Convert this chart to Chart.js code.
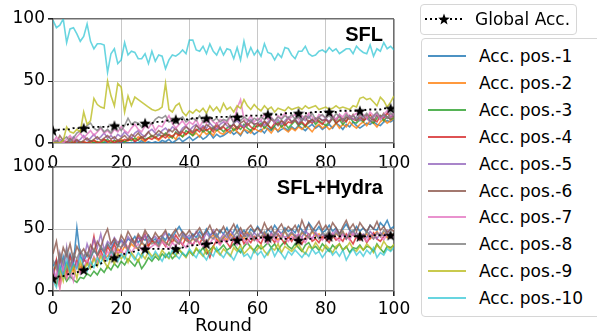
<!DOCTYPE html>
<html lang="en">
<head>
<meta charset="UTF-8" />
<title>SFL vs SFL+Hydra accuracy per position</title>
<script src="https://cdn.jsdelivr.net/npm/chart.js"></script>
<style>
  html, body { margin: 0; padding: 0; background: #fff; }
  body { width: 597px; height: 335px; overflow: hidden; position: relative; font-family: 'DejaVu Sans', sans-serif; }
  .plot { position: absolute; left: 0; width: 420px; }
  #topWrap { top: 0; height: 170px; }
  #botWrap { top: 148px; height: 189px; }
  .tag { position: absolute; text-align: right; font-family: 'Liberation Sans', Arial, sans-serif; font-weight: bold; font-size: 20px; line-height: 1; color: #000; }
  .legend { position: absolute; border: 1px solid #d6d6d6; border-radius: 4px; background: #fff; box-sizing: border-box; z-index: 2; }
  .item { position: absolute; left: 0; height: 20px; font-size: 17px; line-height: 20px; white-space: nowrap; color: #000; }
  .swatch { position: absolute; left: 6px; top: 9px; width: 38px; height: 2px; }
  .label { position: absolute; left: 57px; top: 0; }
</style>
</head>
<body>
  <div class="plot" id="topWrap"><canvas id="sflChart"></canvas></div>
  <div class="plot" id="botWrap"><canvas id="hydraChart"></canvas></div>
  <div class="tag" style="left:283px; width:100px; top:24px;">SFL</div>
  <div class="tag" style="left:243px; width:140px; top:177px;">SFL+Hydra</div>

  <div class="legend" id="legendGlobal" style="left:420px; top:4px; width:157px; height:31px;"></div>
  <div class="legend" id="legendPos" style="left:421px; top:38px; width:200px; height:279px;"></div>

<script>
// rounds 0..100
const rounds = Array.from({ length: 101 }, (_, i) => i);

const posNames = ['Acc. pos.-1', 'Acc. pos.-2', 'Acc. pos.-3', 'Acc. pos.-4', 'Acc. pos.-5',
                  'Acc. pos.-6', 'Acc. pos.-7', 'Acc. pos.-8', 'Acc. pos.-9', 'Acc. pos.-10'];
const posColors = ['rgba(31,119,180,0.8)', 'rgba(255,127,14,0.8)', 'rgba(44,160,44,0.8)', 'rgba(214,39,40,0.8)', 'rgba(148,103,189,0.8)',
                   'rgba(140,86,75,0.8)', 'rgba(227,119,194,0.8)', 'rgba(127,127,127,0.8)', 'rgba(188,189,34,0.8)', 'rgba(23,190,207,0.65)'];

// ---- SFL (top panel) ----
const sflGlobal = [
  10,10,11,11,11,11,12,12,12,12, 12,12,13,13,13,13,13,14,14,14,
  14,14,15,15,15,15,16,16,16,16, 17,17,17,18,18,18,19,19,19,19,
  19,20,20,20,20,20,20,20,21,21, 21,21,21,21,21,21,22,22,22,22,
  22,22,23,23,23,23,23,23,24,24, 24,24,24,24,24,24,25,25,25,25,
  25,25,25,25,26,26,26,26,26,26, 26,26,27,27,27,27,27,28,28,28,
  28];
const sflPos1 = [
  0,0,0,0,0,0,0,0,0,0, 0,0,0,0,0,0,1,0,0,0,
  0,1,0,0,1,0,2,0,1,0, 1,0,2,1,3,0,2,4,1,3,
  5,2,4,6,3,5,8,4,7,5, 6,8,10,7,9,6,11,8,10,7,
  9,11,8,12,10,13,9,11,12,10, 13,11,14,12,10,13,15,12,14,11,
  13,15,12,16,14,11,15,13,17,14, 12,14,16,15,17,15,14,17,18,17,
  19];
const sflPos2 = [
  0,0,0,1,0,0,2,0,0,1, 0,0,2,1,0,3,1,0,2,1,
  3,1,2,4,2,5,3,1,4,6, 4,2,5,7,4,6,3,8,5,7,
  9,6,8,5,10,7,9,6,11,8, 7,10,8,12,9,7,11,10,8,12,
  10,9,13,11,8,12,10,14,11,9, 12,10,13,11,14,12,9,13,15,12,
  14,11,13,16,12,15,13,17,14,12, 15,17,14,18,16,13,17,19,16,18,
  20];
const sflPos3 = [
  0,0,0,0,0,1,0,0,1,0, 0,2,0,1,0,1,3,0,2,1,
  2,1,3,2,4,2,5,3,4,6, 4,7,5,8,6,4,9,7,5,10,
  8,6,10,12,9,11,8,13,10,12, 9,12,14,10,13,11,15,12,10,14,
  13,16,12,15,11,14,17,13,16,12, 15,18,14,16,13,17,19,15,18,16,
  14,17,20,16,19,15,18,21,17,16, 19,17,21,18,16,20,22,18,21,19,
  20];
const sflPos4 = [
  0,0,0,0,1,0,0,2,0,1, 0,1,2,0,1,3,1,2,0,2,
  1,3,2,4,1,3,5,2,4,3, 5,3,6,4,7,5,8,6,9,7,
  10,8,11,9,13,10,12,9,14,11, 13,10,12,15,11,14,12,16,13,11,
  15,13,17,14,12,16,15,18,14,17, 16,19,15,17,14,18,16,20,17,15,
  19,17,21,16,18,20,17,22,19,18, 21,18,20,23,19,17,22,20,24,21,
  23];
const sflPos5 = [
  0,0,3,1,0,2,5,1,3,6, 2,4,7,3,5,8,4,6,3,7,
  5,9,6,4,8,10,7,5,9,11, 8,6,10,12,9,13,11,8,12,14,
  10,13,15,11,14,12,16,13,11,15, 17,14,12,16,18,15,13,17,19,15,
  16,18,14,17,20,16,19,15,18,21, 17,19,16,20,18,22,17,19,21,18,
  20,17,21,19,23,18,20,22,19,21, 18,22,20,17,21,23,19,22,20,21,
  23];
const sflPos6 = [
  3,0,6,2,0,4,1,3,0,2, 4,1,3,5,2,4,6,3,5,2,
  4,6,3,7,5,8,4,6,9,5, 7,10,8,6,11,9,12,8,10,13,
  11,9,14,12,10,15,13,11,16,12, 14,17,13,15,12,16,18,14,17,15,
  16,14,18,15,19,17,14,18,16,20, 17,19,15,18,21,16,19,17,20,18,
  19,16,20,18,22,17,21,19,23,18, 21,19,23,20,18,22,20,24,21,19,
  22];
const sflPos7 = [
  0,5,1,0,3,6,2,5,8,4, 7,10,6,9,12,8,10,7,11,9,
  13,10,8,12,15,11,9,14,12,16, 10,14,13,18,22,16,12,15,18,14,
  17,15,19,13,18,16,20,17,15,19, 18,16,21,17,28,35,19,18,22,17,
  20,18,23,19,21,17,22,20,24,19, 21,23,19,22,20,24,21,18,23,22,
  20,24,22,19,23,21,25,20,22,24, 21,23,20,25,22,24,19,23,26,22,
  24];
const sflPos8 = [
  0,2,0,3,5,1,4,8,10,12, 14,16,12,10,13,9,11,8,12,14,
  10,14,20,15,17,16,13,17,16,15, 19,21,20,22,17,18,16,19,21,17,
  19,20,18,22,17,19,21,18,20,17, 19,18,22,16,20,18,21,19,17,20,
  18,21,19,22,20,18,21,19,22,20, 23,19,21,18,22,20,24,19,21,23,
  20,22,19,24,21,18,23,20,22,19, 23,21,24,20,22,25,21,23,20,24,
  22];
const sflPos9 = [
  0,0,0,2,13,9,8,11,9,25, 15,18,36,31,29,28,50,38,30,48,
  45,25,38,30,37,35,33,31,29,27, 26,27,29,48,27,25,30,32,25,22,
  26,24,27,25,28,24,30,26,29,25, 32,27,29,25,30,28,35,30,27,31,
  28,26,30,27,29,25,28,27,26,29, 27,28,29,27,30,28,29,30,27,28,
  29,27,28,30,28,29,28,27,30,29, 36,37,35,36,33,30,37,34,29,33,
  38];
const sflPos10 = [
  99,93,95,100,81,92,93,88,82,86, 96,82,76,80,80,79,57,72,76,64,
  67,81,71,74,73,68,68,72,64,74, 66,71,70,60,67,71,70,72,75,72,
  83,83,75,74,78,72,80,74,71,77, 71,76,75,68,77,67,82,70,77,71,
  75,70,80,73,72,67,72,69,77,76, 71,68,74,74,78,72,70,71,74,75,
  73,77,74,76,72,74,76,76,72,78, 75,73,72,79,70,76,74,81,76,78,
  75];

// ---- SFL+Hydra (bottom panel) ----
const hydraGlobal = [
  10,11,12,12,13,14,14,15,16,17, 18,19,20,21,22,24,25,26,27,28,
  29,30,31,31,32,33,33,34,34,34, 34,34,34,34,34,35,34,35,35,36,
  36,37,37,37,38,38,38,39,39,40, 40,40,41,41,41,41,42,42,42,42,
  43,43,43,43,43,43,43,42,42,42, 42,41,41,41,42,42,42,43,43,43,
  43,44,44,44,44,44,44,44,44,44, 44,44,44,44,45,45,45,45,45,45,
  46];
const hydraPos1 = [
  20,25,15,28,18,30,22,51,28,24, 30,26,33,29,35,31,38,34,40,36,
  41,38,42,40,44,39,43,41,45,40, 42,38,44,41,46,43,48,52,47,44,
  42,46,43,48,44,50,45,47,43,49, 46,51,44,48,53,46,49,45,50,47,
  52,48,45,50,47,53,49,46,51,48, 50,47,53,49,46,55,51,48,52,47,
  49,53,48,51,46,50,54,49,47,52, 48,51,47,53,50,49,55,52,57,50,
  52];
const hydraPos2 = [
  5,12,3,18,10,22,15,25,20,17, 24,20,27,23,30,26,28,32,29,34,
  31,36,33,38,35,34,39,36,37,40, 38,36,41,39,37,42,40,38,43,41,
  39,42,40,44,41,38,43,45,42,40, 44,41,46,43,40,45,42,47,44,41,
  45,43,47,42,46,44,41,45,48,43, 46,44,42,47,45,43,48,44,46,42,
  45,47,43,46,44,48,42,46,45,43, 47,44,46,42,45,48,44,47,43,46,
  45];
const hydraPos3 = [
  15,22,10,14,8,12,9,7,11,10, 14,12,16,13,18,15,20,17,22,19,
  24,21,26,23,20,25,18,22,27,24, 28,25,30,27,31,26,29,33,30,28,
  32,29,34,31,35,30,33,36,32,34, 37,33,35,38,34,31,36,39,35,33,
  37,34,36,39,35,38,33,37,40,36, 34,38,35,32,37,39,34,36,33,38,
  35,32,37,34,38,33,36,31,35,34, 37,33,36,35,32,38,34,31,36,35,
  37];
const hydraPos4 = [
  10,25,8,20,14,28,18,24,16,26, 22,30,44,28,33,25,36,31,38,29,
  35,40,33,42,37,44,39,46,36,41, 38,43,40,36,42,39,45,41,37,43,
  40,37,42,38,44,33,27,36,41,38, 42,39,35,43,40,45,38,42,39,44,
  41,38,45,40,43,39,46,42,38,44, 40,45,41,38,43,46,40,42,39,44,
  42,39,45,41,43,40,46,42,38,44, 41,45,39,43,47,42,40,44,46,43,
  45];
const hydraPos5 = [
  18,8,30,15,35,12,28,20,32,25, 38,30,42,35,46,33,40,37,43,39,
  41,36,44,40,38,43,41,45,39,42, 44,40,43,47,41,45,42,39,46,43,
  45,42,48,44,41,47,43,49,45,42, 46,43,49,45,42,48,44,46,43,47,
  44,48,45,42,47,44,49,46,43,45, 48,44,46,43,49,45,42,47,44,46,
  43,47,45,49,44,46,42,48,45,47, 44,46,43,48,45,42,47,44,49,46,
  44];
const hydraPos6 = [
  30,40,22,35,28,38,25,36,30,34, 28,37,32,40,35,44,50,38,42,36,
  45,40,48,43,39,46,42,49,44,41, 47,43,45,49,42,46,50,44,48,45,
  49,44,47,51,45,48,53,46,50,47, 52,46,49,54,47,51,45,50,53,48,
  51,47,55,49,52,46,50,54,48,52, 49,53,47,57,50,54,48,52,56,49,
  53,48,55,51,46,52,57,50,54,48, 55,51,48,53,50,56,49,52,47,50,
  48];
const hydraPos7 = [
  5,15,2,20,10,18,8,22,14,19, 25,20,28,22,30,26,32,28,34,30,
  33,29,36,31,35,38,33,37,34,36, 38,35,40,37,34,39,36,41,38,35,
  40,37,42,39,36,41,38,43,40,37, 42,39,44,40,37,43,41,38,45,42,
  40,44,41,38,45,42,39,46,43,40, 44,41,46,43,39,45,42,47,44,41,
  45,42,47,43,40,46,44,41,47,43, 46,43,40,45,42,47,44,41,46,43,
  44];
const hydraPos8 = [
  25,18,30,22,34,20,30,26,33,28, 31,27,34,29,36,32,38,34,30,37,
  35,39,33,41,37,34,40,36,42,38, 40,36,43,39,37,44,40,38,45,41,
  39,43,40,45,41,38,44,42,46,40, 43,46,41,44,48,42,45,43,47,41,
  46,43,48,44,41,47,45,42,49,44, 47,44,42,48,45,43,49,46,42,47,
  45,49,43,47,44,48,42,46,49,44, 47,43,48,45,42,47,44,49,46,43,
  45];
const hydraPos9 = [
  12,5,18,8,22,14,20,10,24,16, 22,18,26,20,28,24,19,27,22,30,
  26,29,23,31,27,24,30,26,32,28, 30,27,33,29,26,31,28,34,30,27,
  32,29,35,31,28,34,30,36,32,29, 34,31,28,35,32,37,30,33,36,31,
  34,37,32,29,35,33,38,31,36,34, 32,35,38,33,30,36,34,39,35,32,
  37,34,31,36,38,33,35,39,34,32, 36,33,38,35,31,37,34,40,36,33,
  38];
const hydraPos10 = [
  8,3,20,12,25,15,22,18,28,20, 16,24,19,27,22,30,25,32,28,24,
  30,26,33,29,25,31,27,34,30,26, 32,28,24,30,27,33,29,26,31,28,
  34,30,27,33,29,25,31,28,35,30, 27,32,29,25,31,34,28,30,26,33,
  29,32,27,31,35,28,33,30,26,32, 29,33,30,27,31,28,34,30,32,27,
  31,34,29,32,28,33,25,30,34,29, 32,28,33,30,35,27,31,29,34,32,
  35];

const sflPos = [sflPos1, sflPos2, sflPos3, sflPos4, sflPos5, sflPos6, sflPos7, sflPos8, sflPos9, sflPos10];
const hydraPos = [hydraPos1, hydraPos2, hydraPos3, hydraPos4, hydraPos5, hydraPos6, hydraPos7, hydraPos8, hydraPos9, hydraPos10];

const spineColor = '#6e6e6e';
const gridColor = '#c8c8c8';
const tickFont = { family: 'DejaVu Sans', size: 17 };

// filled 5-point star used as marker for the global accuracy
function makeStar(size) {
  const c = document.createElement('canvas');
  c.width = c.height = size;
  const g = c.getContext('2d');
  const r = size / 2, ri = r * 0.42;
  g.beginPath();
  for (let k = 0; k < 10; k++) {
    const rad = k % 2 ? ri : r;
    const a = -Math.PI / 2 + k * Math.PI / 5;
    g.lineTo(r + rad * Math.cos(a), r + 0.6 + rad * Math.sin(a));
  }
  g.closePath();
  g.fillStyle = '#000';
  g.fill();
  return c;
}
const star = makeStar(12);

const isEdge = (c) => c.tick && (c.tick.value === 0 || c.tick.value === 100);

function buildChart(id, globalData, posData, xAxisH, tickPad, withTitle) {
  const datasets = [{
    label: 'Global Acc.',
    data: globalData,
    borderColor: '#000',
    backgroundColor: '#000',
    borderWidth: 1.8,
    borderDash: [2, 3],
    pointStyle: star,
    pointRadius: c => (c.dataIndex % 9 === 0 ? 5 : 0),
    pointHoverRadius: 0,
    order: 0
  }];
  posData.forEach((d, i) => {
    datasets.push({
      label: posNames[i],
      data: d,
      borderColor: posColors[i],
      borderWidth: 1.6,
      pointRadius: 0,
      order: 11 - i
    });
  });

  return new Chart(document.getElementById(id), {
    type: 'line',
    data: { labels: rounds, datasets: datasets },
    options: {
      responsive: true,
      maintainAspectRatio: false,
      animation: false,
      layout: { padding: { top: 19, right: 26, left: 0, bottom: 0 } },
      plugins: { legend: { display: false }, tooltip: { enabled: false } },
      elements: { line: { tension: 0 } },
      scales: {
        x: {
          type: 'linear',
          min: 0,
          max: 100,
          afterFit: s => { s.height = xAxisH; },
          ticks: { stepSize: 20, padding: tickPad, color: '#000', font: tickFont, maxRotation: 0, autoSkip: false },
          grid: {
            color: c => (isEdge(c) ? spineColor : gridColor),
            lineWidth: c => (isEdge(c) ? 1.6 : 1),
            tickLength: 5,
            tickColor: '#222'
          },
          border: { display: false },
          title: {
            display: withTitle,
            text: 'Round',
            color: '#000',
            font: { family: 'DejaVu Sans', size: 18 },
            padding: 0
          }
        },
        y: {
          min: 0,
          max: 100,
          afterFit: s => { s.width = 53; },
          ticks: { stepSize: 50, padding: 3, color: '#000', font: tickFont },
          grid: {
            color: c => (isEdge(c) ? spineColor : gridColor),
            lineWidth: c => (isEdge(c) ? 1.6 : 1),
            tickLength: 5,
            tickColor: '#222'
          },
          border: { display: false }
        }
      }
    }
  });
}

buildChart('sflChart', sflGlobal, sflPos, 27, 5, false);
buildChart('hydraChart', hydraGlobal, hydraPos, 46, 3, true);

// legends
(function () {
  const lg = document.getElementById('legendGlobal');
  const item = document.createElement('div');
  item.className = 'item';
  item.style.top = '4px';
  const cv = document.createElement('canvas');
  cv.width = 38; cv.height = 14;
  cv.style.position = 'absolute'; cv.style.left = '4px'; cv.style.top = '3px';
  const g = cv.getContext('2d');
  g.strokeStyle = '#000'; g.lineWidth = 1.8; g.setLineDash([2, 3]);
  g.beginPath(); g.moveTo(0, 7); g.lineTo(38, 7); g.stroke();
  g.drawImage(star, 19 - star.width / 2, 7 - star.height / 2);
  item.appendChild(cv);
  const t = document.createElement('span');
  t.className = 'label'; t.style.left = '54px'; t.textContent = 'Global Acc.';
  item.appendChild(t);
  lg.appendChild(item);

  const lp = document.getElementById('legendPos');
  posNames.forEach((name, i) => {
    const it = document.createElement('div');
    it.className = 'item';
    it.style.top = (7 + 26.9 * i) + 'px';
    const sw = document.createElement('div');
    sw.className = 'swatch';
    sw.style.background = posColors[i];
    it.appendChild(sw);
    const lab = document.createElement('span');
    lab.className = 'label';
    lab.textContent = name;
    it.appendChild(lab);
    lp.appendChild(it);
  });
})();
</script>
</body>
</html>
